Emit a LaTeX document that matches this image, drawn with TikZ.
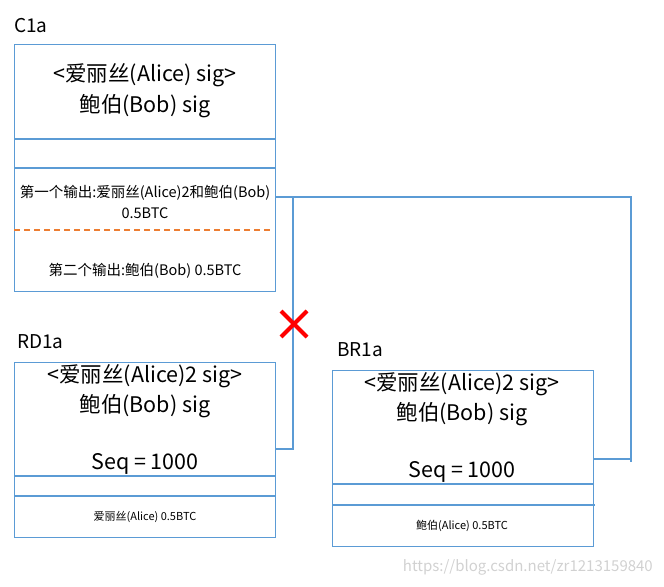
\documentclass[tikz,border=0pt]{standalone}
\usepackage{fontspec}
\setmainfont{Noto Sans CJK SC}
\usetikzlibrary{positioning}
\definecolor{boxblue}{HTML}{5B9BD5}
\definecolor{dashorange}{HTML}{ED7D31}
\definecolor{xred}{HTML}{FF0000}
\begin{document}
\begin{tikzpicture}[x=1bp,y=-1bp,
  box/.style={draw=boxblue,line width=1.3bp,rectangle,anchor=north west,inner sep=0pt},
  rule/.style={draw=boxblue,line width=1.3bp},
  conn/.style={draw=boxblue,line width=1.3bp},
  big/.style={font=\fontsize{21.5bp}{25bp}\selectfont,inner sep=0pt},
  mid/.style={font=\fontsize{14.5bp}{17bp}\selectfont,inner sep=0pt},
  small/.style={font=\fontsize{11bp}{13bp}\selectfont,inner sep=0pt},
  title/.style={font=\fontsize{19bp}{22bp}\selectfont,inner sep=0pt,anchor=west}]
\useasboundingbox (0,0) rectangle (664,587);
% C1a
\node[title] (tC) at (14,26) {C1a};
\node[box,minimum width=261bp,minimum height=247bp] (C1a) at (14,44) {};
\draw[rule] (14,139) -- (275,139);
\draw[rule] (14,168) -- (275,168);
\draw[draw=dashorange,line width=1.5bp,dash pattern=on 6bp off 4bp] (14,230) -- (271,230);
\node[big] (c1l1) at (145,75) {<爱丽丝(Alice) sig>};
\node[big] (c1l2) at (145,106) {鲍伯(Bob) sig};
\node[mid] (c1o1) at (145,193) {第一个输出:爱丽丝(Alice)2和鲍伯(Bob)};
\node[mid] (c1o2) at (145,213) {0.5BTC};
\node[mid] (c1o3) at (145,271) {第二个输出:鲍伯(Bob) 0.5BTC};
% RD1a
\node[title] (tR) at (17,342) {RD1a};
\node[box,minimum width=261bp,minimum height=175bp] (RD1a) at (14,362) {};
\draw[rule] (14,476) -- (275,476);
\draw[rule] (14,496) -- (276,496);
\node[big] (r1) at (145,376) {<爱丽丝(Alice)2 sig>};
\node[big] (r2) at (145,406) {鲍伯(Bob) sig};
\node[big] (r3) at (145,464) {Seq = 1000};
\node[small] (r4) at (145,517) {爱丽丝(Alice) 0.5BTC};
% BR1a
\node[title] (tB) at (337,350) {BR1a};
\node[box,minimum width=261bp,minimum height=176bp] (BR1a) at (332,370) {};
\draw[rule] (332,484) -- (593,484);
\draw[rule] (332,505) -- (595,505);
\node[big] (b1) at (462,384) {<爱丽丝(Alice)2 sig>};
\node[big] (b2) at (462,414) {鲍伯(Bob) sig};
\node[big] (b3) at (462,472) {Seq = 1000};
\node[small] (b4) at (462,526) {鲍伯(Alice) 0.5BTC};
% connectors
\coordinate (c1out) at (275,197);
\coordinate (j1) at (293,197);
\coordinate (j2) at (631,197);
\coordinate (j3) at (631,462);
\coordinate (rdin) at (275,449);
\coordinate (brin) at (594,459);
\draw[conn] (c1out) -- (j2) -- (j3);
\draw[conn] (j1) |- (rdin);
\draw[conn] (brin) -- (631,459);
% red cross
\draw[xred,line width=4bp] (281,311) -- (307,337);
\draw[xred,line width=4bp] (307,311) -- (281,337);
% watermark
\node[font=\fontsize{15bp}{18bp}\selectfont,text=black!18,inner sep=0pt,anchor=east] (wm) at (653,567) {https://blog.csdn.net/zr1213159840};
\end{tikzpicture}
\end{document}
